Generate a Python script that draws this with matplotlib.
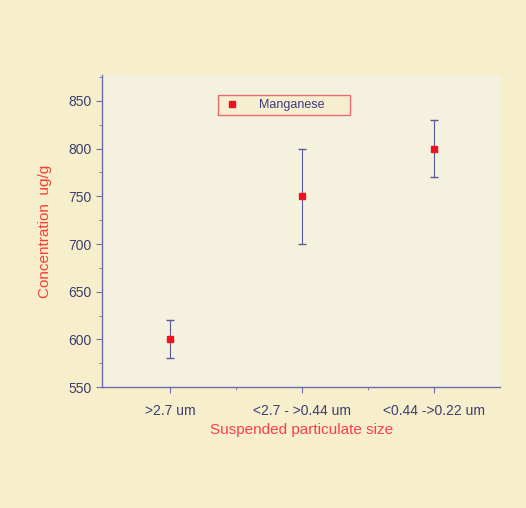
import matplotlib
matplotlib.use("Agg")
import matplotlib.pyplot as plt
from matplotlib.ticker import MultipleLocator, FixedLocator

categories = [">2.7 um", "<2.7 - >0.44 um", "<0.44 ->0.22 um"]
values = [600, 750, 800]
errors = [20, 50, 30]

plt.rcParams['font.family'] = ['Liberation Sans Narrow', 'Liberation Sans', 'DejaVu Sans']

fig = plt.figure(figsize=(5.26, 5.08), dpi=100, facecolor='#f7efcc')
ax = fig.add_axes([0.194, 0.238, 0.757, 0.614])
ax.set_facecolor('#f4f1de')

axis_col = '#6c6cb0'
txt_col = '#3e3e70'
x = [1, 2, 3]
ax.errorbar(x, values, yerr=errors, fmt='none', ecolor='#5a5a9a', elinewidth=0.8,
            capsize=3, capthick=1.0, zorder=2)
ax.plot(x, values, 's', color='#ee1122', markersize=5, label='Manganese', zorder=3)

ax.set_xlim(0.485, 3.5)
ax.set_ylim(550, 877)
ax.xaxis.set_major_locator(FixedLocator(x))
ax.set_xticklabels(categories)
ax.xaxis.set_minor_locator(FixedLocator([1.5, 2.5]))
ax.yaxis.set_major_locator(MultipleLocator(50))
ax.yaxis.set_minor_locator(MultipleLocator(25))

for s in ['top', 'right']:
    ax.spines[s].set_visible(False)
for s in ['left', 'bottom']:
    ax.spines[s].set_color(axis_col)
    ax.spines[s].set_linewidth(1.0)
ax.tick_params(which='both', direction='out', color=axis_col, labelcolor=txt_col, labelsize=10)
ax.tick_params(which='major', length=4)
ax.tick_params(which='minor', length=2)
ax.tick_params(axis='x', which='major', pad=8)

ax.set_ylabel('Concentration  ug/g', color='#ff3b30', fontsize=11, labelpad=12)
ax.set_xlabel('Suspended particulate size', color='#ff3b50', fontsize=11, labelpad=4)

leg = ax.legend(loc='upper left', bbox_to_anchor=(0.276, 0.955), frameon=True, fancybox=False,
                fontsize=9, handletextpad=1.4, borderpad=0.3, handlelength=1.6)
leg.get_frame().set_edgecolor('#e84a5a')
leg.get_frame().set_facecolor('#f7efcc')
leg.get_frame().set_linewidth(1.0)
for t in leg.get_texts():
    t.set_color('#3a3a80')
    t.set_text(t.get_text() + '      ')

fig.savefig('out.png', dpi=100, facecolor=fig.get_facecolor())
